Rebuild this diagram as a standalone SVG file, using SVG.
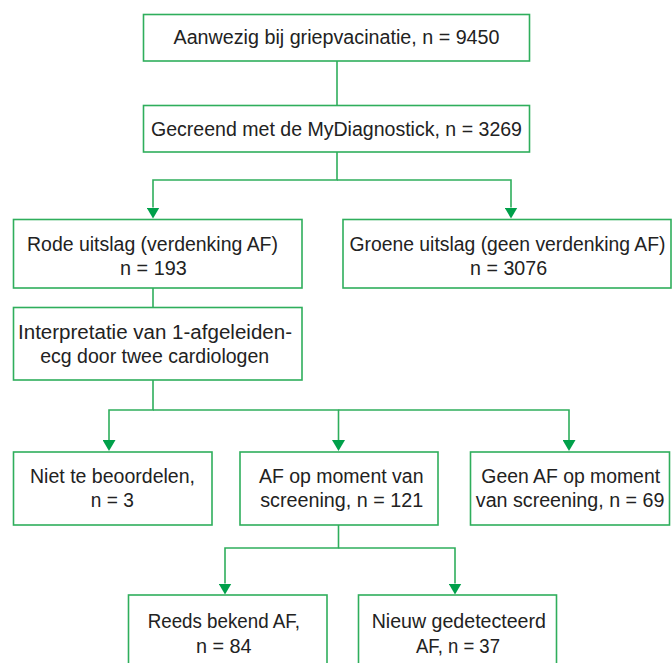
<svg xmlns="http://www.w3.org/2000/svg" width="672" height="663" viewBox="0 0 672 663">
<defs>
<style>
.box{fill:#ffffff;stroke:#2fae5c;stroke-width:1.6}
.lbl{font-family:"Liberation Sans","Arial",sans-serif;font-size:19.5px;fill:#222222;text-anchor:middle}
.con{fill:none;stroke:#2fae5c;stroke-width:1.6}
</style>
<marker id="arr" viewBox="0 0 11 13" refX="0" refY="6.5" markerWidth="11" markerHeight="13" markerUnits="userSpaceOnUse" orient="auto">
<path d="M0,0 L11,6.5 L0,13 Z" fill="#00a04a"/>
</marker>
</defs>
<rect width="672" height="663" fill="#ffffff"/>
<g id="connectors">
<path class="con" d="M337,61 V105.5"/>
<path class="con" d="M337,152 V180 H153 V207.5" marker-end="url(#arr)"/>
<path class="con" d="M337,180 H511 V207.5" marker-end="url(#arr)"/>
<path class="con" d="M153,288 V307.5"/>
<path class="con" d="M153,380 V410 H109 V440" marker-end="url(#arr)"/>
<path class="con" d="M153,410 H338.5 V440" marker-end="url(#arr)"/>
<path class="con" d="M338.5,410 H569 V440" marker-end="url(#arr)"/>
<path class="con" d="M338.5,525 V548 H225 V583.5" marker-end="url(#arr)"/>
<path class="con" d="M338.5,548 H455 V583.5" marker-end="url(#arr)"/>
</g>
<g id="n1">
<rect class="box" x="143.5" y="14.5" width="386" height="46.5"/>
<text class="lbl" x="336.5" y="43.5" textLength="326" lengthAdjust="spacingAndGlyphs">Aanwezig bij griepvacinatie, n = 9450</text>
</g>
<g id="n2">
<rect class="box" x="143.5" y="105.5" width="386" height="46.5"/>
<text class="lbl" x="336.5" y="136" textLength="371" lengthAdjust="spacingAndGlyphs">Gecreend met de MyDiagnostick, n = 3269</text>
</g>
<g id="n3">
<rect class="box" x="13.5" y="219.5" width="288.5" height="68.5"/>
<text class="lbl" x="152.5" y="250.5" textLength="251" lengthAdjust="spacingAndGlyphs">Rode uitslag (verdenking AF)</text>
<text class="lbl" x="153.4" y="274.5" textLength="66.7" lengthAdjust="spacingAndGlyphs">n = 193</text>
</g>
<g id="n4">
<rect class="box" x="343" y="219.5" width="328" height="68.5"/>
<text class="lbl" x="507.5" y="250.5" textLength="316" lengthAdjust="spacingAndGlyphs">Groene uitslag (geen verdenking AF)</text>
<text class="lbl" x="508.6" y="274.5" textLength="77" lengthAdjust="spacingAndGlyphs">n = 3076</text>
</g>
<g id="n5">
<rect class="box" x="13.5" y="307.5" width="288.5" height="72.5"/>
<text class="lbl" x="155" y="338.5" textLength="274" lengthAdjust="spacingAndGlyphs">Interpretatie van 1-afgeleiden-</text>
<text class="lbl" x="154.7" y="363" textLength="229" lengthAdjust="spacingAndGlyphs">ecg door twee cardiologen</text>
</g>
<g id="n6">
<rect class="box" x="13.5" y="452" width="198.5" height="73"/>
<text class="lbl" x="112.5" y="483.3" textLength="165" lengthAdjust="spacingAndGlyphs">Niet te beoordelen,</text>
<text class="lbl" x="112.3" y="507.3" textLength="43" lengthAdjust="spacingAndGlyphs">n = 3</text>
</g>
<g id="n7">
<rect class="box" x="240" y="452" width="198" height="73"/>
<text class="lbl" x="341.2" y="483.3" textLength="164.6" lengthAdjust="spacingAndGlyphs">AF op moment van</text>
<text class="lbl" x="341.7" y="507.3" textLength="163" lengthAdjust="spacingAndGlyphs">screening, n = 121</text>
</g>
<g id="n8">
<rect class="box" x="470.5" y="452" width="199" height="73"/>
<text class="lbl" x="570.7" y="483.3" textLength="178.7" lengthAdjust="spacingAndGlyphs">Geen AF op moment</text>
<text class="lbl" x="570.1" y="507.3" textLength="188.6" lengthAdjust="spacingAndGlyphs">van screening, n = 69</text>
</g>
<g id="n9">
<rect class="box" x="128.5" y="595" width="198.5" height="73"/>
<text class="lbl" x="223.8" y="627.7" textLength="152.3" lengthAdjust="spacingAndGlyphs">Reeds bekend AF,</text>
<text class="lbl" x="223.8" y="653.3" textLength="55.7" lengthAdjust="spacingAndGlyphs">n = 84</text>
</g>
<g id="n10">
<rect class="box" x="358.5" y="595" width="198" height="73"/>
<text class="lbl" x="458.8" y="627.7" textLength="174.3" lengthAdjust="spacingAndGlyphs">Nieuw gedetecteerd</text>
<text class="lbl" x="458" y="653.3" textLength="84" lengthAdjust="spacingAndGlyphs">AF, n = 37</text>
</g>
</svg>
